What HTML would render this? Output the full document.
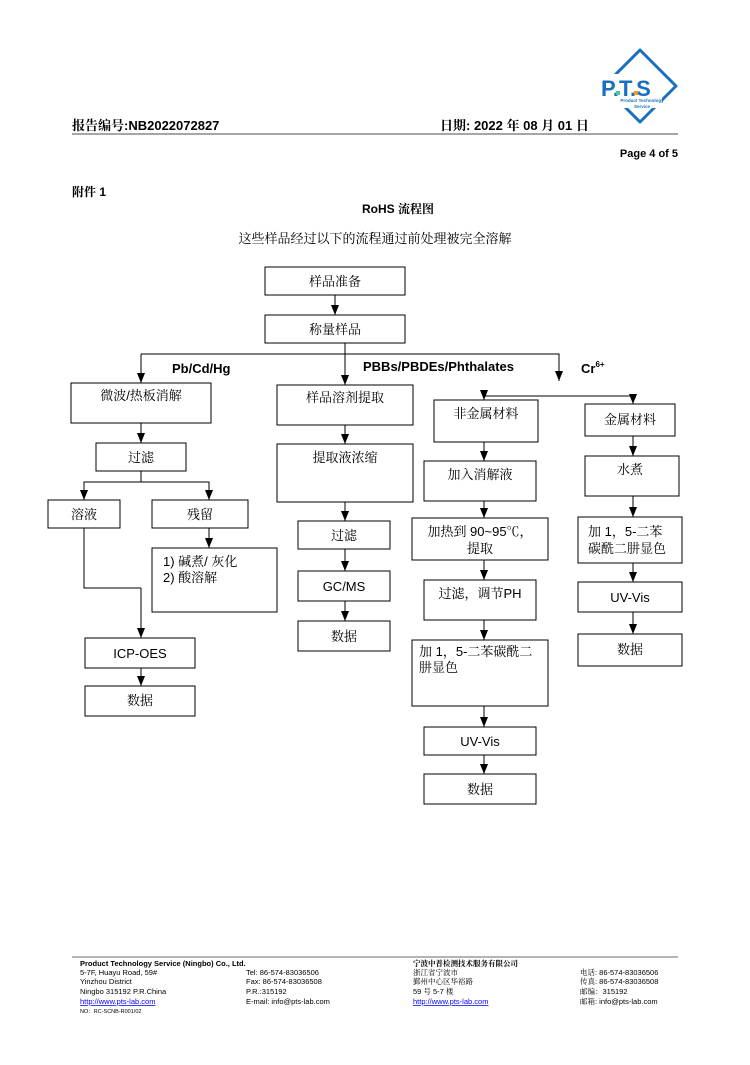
<!DOCTYPE html>
<html><head><meta charset="utf-8"><style>
body{margin:0;background:#fff;}
svg text{font-family:"Liberation Sans","Noto Serif CJK SC","Noto Sans CJK SC",sans-serif;}
.c{font-family:"Liberation Serif","Noto Serif CJK SC",serif;font-size:13px;}
.b{font-weight:bold;}
</style></head><body>
<svg width="750" height="1060" xmlns="http://www.w3.org/2000/svg">
<defs><marker id="a" markerWidth="10" markerHeight="8" refX="10" refY="4" orient="auto" markerUnits="userSpaceOnUse"><path d="M0,0 L10,4 L0,8 z" fill="#000"/></marker></defs>
<!-- logo -->
<g>
<path d="M640,50 L676,86 L640,122 L604,86 Z" fill="none" stroke="#1a6fc0" stroke-width="3" stroke-linejoin="round"/>
<rect x="606" y="74" width="56" height="34" fill="#fff"/>
<text x="601" y="96" font-size="22" font-weight="bold" fill="#1a6fc0">P.T.S</text>
<rect x="616" y="91" width="4" height="4" fill="#4c9"/><rect x="634" y="91" width="4" height="4" fill="#f90"/>
<text x="642" y="102" font-size="4.5" font-weight="bold" fill="#1a6fc0" text-anchor="middle">Product Technology</text>
<text x="642" y="108" font-size="4.5" font-weight="bold" fill="#1a6fc0" text-anchor="middle">Service</text>
</g>
<text x="72" y="130" font-size="13" class="b">报告编号:NB2022072827</text>
<text x="440" y="130" font-size="13" class="b">日期: 2022 年 08 月 01 日</text>
<line x1="72" y1="134" x2="678" y2="134" stroke="#888" stroke-width="1.5"/>
<text x="678" y="157" font-size="11" class="b" text-anchor="end">Page 4 of 5</text>
<text x="72" y="196" font-size="12" class="b">附件 1</text>
<text x="398" y="213" font-size="12" class="b" text-anchor="middle">RoHS 流程图</text>
<text x="375" y="243" class="c" text-anchor="middle">这些样品经过以下的流程通过前处理被完全溶解</text>
<g fill="none" stroke="#000" stroke-width="1">
<rect x="265" y="267" width="140" height="28"/>
<rect x="265" y="315" width="140" height="28"/>
<rect x="71" y="383" width="140" height="40"/>
<rect x="277" y="385" width="136" height="40"/>
<rect x="434" y="400" width="104" height="42"/>
<rect x="585" y="404" width="90" height="32"/>
<rect x="96" y="443" width="90" height="28"/>
<rect x="277" y="444" width="136" height="58"/>
<rect x="48" y="500" width="72" height="28"/>
<rect x="152" y="500" width="96" height="28"/>
<rect x="152" y="548" width="125" height="64"/>
<rect x="85" y="638" width="110" height="30"/>
<rect x="85" y="686" width="110" height="30"/>
<rect x="298" y="521" width="92" height="28"/>
<rect x="298" y="571" width="92" height="30"/>
<rect x="298" y="621" width="92" height="30"/>
<rect x="424" y="461" width="112" height="40"/>
<rect x="412" y="518" width="136" height="42"/>
<rect x="424" y="580" width="112" height="40"/>
<rect x="412" y="640" width="136" height="66"/>
<rect x="424" y="727" width="112" height="28"/>
<rect x="424" y="774" width="112" height="30"/>
<rect x="585" y="456" width="94" height="40"/>
<rect x="578" y="517" width="104" height="46"/>
<rect x="578" y="582" width="104" height="30"/>
<rect x="578" y="634" width="104" height="32"/>
<!-- connectors -->
<line x1="335" y1="295" x2="335" y2="315" marker-end="url(#a)"/>
<line x1="345" y1="343" x2="345" y2="385" marker-end="url(#a)"/>
<polyline points="141,354 559,354 559,381" marker-end="url(#a)"/>
<line x1="141" y1="354" x2="141" y2="383" marker-end="url(#a)"/>
<line x1="484" y1="396" x2="633" y2="396"/>
<line x1="484" y1="396" x2="484" y2="400" marker-end="url(#a)"/>
<line x1="633" y1="396" x2="633" y2="404" marker-end="url(#a)"/>
<line x1="141" y1="423" x2="141" y2="443" marker-end="url(#a)"/>
<line x1="345" y1="425" x2="345" y2="444" marker-end="url(#a)"/>
<line x1="484" y1="442" x2="484" y2="461" marker-end="url(#a)"/>
<line x1="633" y1="436" x2="633" y2="456" marker-end="url(#a)"/>
<polyline points="141,471 141,482 84,482 84,500" marker-end="url(#a)"/>
<polyline points="141,482 209,482 209,500" marker-end="url(#a)"/>
<line x1="209" y1="528" x2="209" y2="548" marker-end="url(#a)"/>
<polyline points="84,528 84,588 141,588"/>
<line x1="141" y1="588" x2="141" y2="638" marker-end="url(#a)"/>
<line x1="141" y1="668" x2="141" y2="686" marker-end="url(#a)"/>
<line x1="345" y1="502" x2="345" y2="521" marker-end="url(#a)"/>
<line x1="345" y1="549" x2="345" y2="571" marker-end="url(#a)"/>
<line x1="345" y1="601" x2="345" y2="621" marker-end="url(#a)"/>
<line x1="484" y1="501" x2="484" y2="518" marker-end="url(#a)"/>
<line x1="484" y1="560" x2="484" y2="580" marker-end="url(#a)"/>
<line x1="484" y1="620" x2="484" y2="640" marker-end="url(#a)"/>
<line x1="484" y1="706" x2="484" y2="727" marker-end="url(#a)"/>
<line x1="484" y1="755" x2="484" y2="774" marker-end="url(#a)"/>
<line x1="633" y1="496" x2="633" y2="517" marker-end="url(#a)"/>
<line x1="633" y1="563" x2="633" y2="582" marker-end="url(#a)"/>
<line x1="633" y1="612" x2="633" y2="634" marker-end="url(#a)"/>
</g>
<g class="c">
<text x="335" y="286" text-anchor="middle">样品准备</text>
<text x="335" y="334" text-anchor="middle">称量样品</text>
<text x="141" y="400" text-anchor="middle">微波/热板消解</text>
<text x="345" y="402" text-anchor="middle">样品溶剂提取</text>
<text x="486" y="418" text-anchor="middle">非金属材料</text>
<text x="630" y="424" text-anchor="middle">金属材料</text>
<text x="141" y="462" text-anchor="middle">过滤</text>
<text x="345" y="462" text-anchor="middle">提取液浓缩</text>
<text x="84" y="519" text-anchor="middle">溶液</text>
<text x="200" y="519" text-anchor="middle">残留</text>
<text x="163" y="566">1) 碱煮/ 灰化</text>
<text x="163" y="582">2) 酸溶解</text>
<text x="140" y="658" text-anchor="middle" font-family="Liberation Sans">ICP-OES</text>
<text x="140" y="705" text-anchor="middle">数据</text>
<text x="344" y="540" text-anchor="middle">过滤</text>
<text x="344" y="591" text-anchor="middle">GC/MS</text>
<text x="344" y="641" text-anchor="middle">数据</text>
<text x="480" y="479" text-anchor="middle">加入消解液</text>
<text x="480" y="536" text-anchor="middle">加热到 90~95℃，</text>
<text x="480" y="553" text-anchor="middle">提取</text>
<text x="480" y="598" text-anchor="middle">过滤，调节PH</text>
<text x="419" y="656">加 1，5-二苯碳酰二</text>
<text x="419" y="672">肼显色</text>
<text x="480" y="746" text-anchor="middle">UV-Vis</text>
<text x="480" y="794" text-anchor="middle">数据</text>
<text x="630" y="474" text-anchor="middle">水煮</text>
<text x="588" y="536">加 1，5-二苯</text>
<text x="588" y="553">碳酰二肼显色</text>
<text x="630" y="602" text-anchor="middle">UV-Vis</text>
<text x="630" y="654" text-anchor="middle">数据</text>
</g>
<text x="172" y="373" font-size="13" class="b">Pb/Cd/Hg</text>
<text x="363" y="371" font-size="13" class="b">PBBs/PBDEs/Phthalates</text>
<text x="581" y="373" font-size="13" class="b">Cr<tspan font-size="8" dy="-6">6+</tspan></text>
<!-- footer -->
<line x1="72" y1="957" x2="678" y2="957" stroke="#888" stroke-width="1.2"/>
<g font-size="7.5">
<text x="80" y="966" class="b">Product Technology Service (Ningbo) Co., Ltd.</text>
<text x="80" y="975">5-7F, Huayu Road, 59#</text>
<text x="80" y="984">Yinzhou District</text>
<text x="80" y="994">Ningbo 315192  P.R.China</text>
<text x="80" y="1004" fill="#00f" text-decoration="underline">http://www.pts-lab.com</text>
<text x="80" y="1013" font-size="5.5">NO：RC-SCNB-R001/02</text>
<text x="246" y="975">Tel: 86-574-83036506</text>
<text x="246" y="984">Fax: 86-574-83036508</text>
<text x="246" y="994">P.R.:315192</text>
<text x="246" y="1004">E-mail: info@pts-lab.com</text>
<text x="413" y="966" class="b">宁波中普检测技术服务有限公司</text>
<text x="413" y="975">浙江省宁波市</text>
<text x="413" y="984">鄞州中心区华裕路</text>
<text x="413" y="994">59 号 5-7 楼</text>
<text x="413" y="1004" fill="#00f" text-decoration="underline">http://www.pts-lab.com</text>
<text x="580" y="975">电话: 86-574-83036506</text>
<text x="580" y="984">传真: 86-574-83036508</text>
<text x="580" y="994">邮编：315192</text>
<text x="580" y="1004">邮箱: info@pts-lab.com</text>
</g>
</svg>
</body></html>
